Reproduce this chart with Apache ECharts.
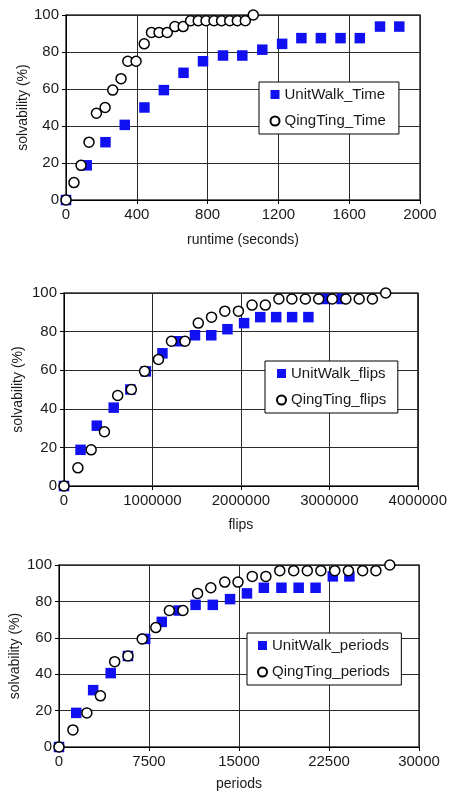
<!DOCTYPE html>
<html>
<head>
<meta charset="utf-8">
<script src="https://cdn.jsdelivr.net/npm/echarts@6/dist/echarts.min.js"></script>
<style>
html,body{margin:0;padding:0;background:#fff;}
#c{width:450px;height:792px;}
</style>
</head>
<body>
<div id="c"></div>
<script>
// Chart 1: runtime (seconds)
var unitWalkTimeX = [0,117,223,332,443,553,664,774,887,996,1109,1221,1330,1440,1551,1660,1774,1883];
var unitWalkTimeY = [0,18.75,31.25,40.6,50,59.4,68.75,75,78.1,78.1,81.25,84.4,87.5,87.5,87.5,87.5,93.75,93.75];
var qingTingTimeX = [0,45,85,130,172,221,264,311,349,396,442,483,526,572,615,662,704,747,791,836,879,925,968,1013,1058];
var qingTingTimeY = [0,9.4,18.75,31.25,46.9,50,59.4,65.6,75,75,84.4,90.6,90.6,90.6,93.75,93.75,96.9,96.9,96.9,96.9,96.9,96.9,96.9,96.9,100];

// Chart 2: flips
var unitWalkFlipsX = [0,187000,371000,562000,750000,926000,1113000,1300000,1481000,1665000,1848000,2036000,2219000,2399000,2579000,2763000,2955000,3140000];
var unitWalkFlipsY = [0,18.75,31.25,40.6,50,59.4,68.75,75,78.1,78.1,81.25,84.4,87.5,87.5,87.5,87.5,96.9,96.9];
var qingTingFlipsX = [0,157000,307000,457000,607000,761000,911000,1068000,1215000,1368000,1518000,1668000,1818000,1972000,2126000,2276000,2429000,2576000,2729000,2879000,3033000,3187000,3337000,3487000,3637000];
var qingTingFlipsY = [0,9.4,18.75,28.1,46.9,50,59.4,65.6,75,75,84.4,87.5,90.6,90.6,93.75,93.75,96.9,96.9,96.9,96.9,96.9,96.9,96.9,96.9,100];

// Chart 3: periods
var unitWalkPeriodsX = [0,1436,2845,4309,5746,7182,8564,9972,11381,12818,14254,15663,17072,18536,19972,21381,22818,24199];
var unitWalkPeriodsY = [0,18.75,31.25,40.6,50,59.4,68.75,75,78.1,78.1,81.25,84.4,87.5,87.5,87.5,87.5,93.75,93.75];
var qingTingPeriodsX = [0,1160,2320,3453,4641,5746,6934,8066,9199,10331,11547,12652,13812,14917,16105,17238,18398,19558,20691,21823,22983,24116,25304,26409,27569];
var qingTingPeriodsY = [0,9.4,18.75,28.1,46.9,50,59.4,65.6,75,75,84.4,87.5,90.6,90.6,93.75,93.75,96.9,96.9,96.9,96.9,96.9,96.9,96.9,96.9,100];

var seriesNames = [
  ['UnitWalk_Time','QingTing_Time'],
  ['UnitWalk_flips','QingTing_flips'],
  ['UnitWalk_periods','QingTing_periods']
];
var xNames = ['runtime (seconds)','flips','periods'];
var yName = 'solvability (%)';
var xMax = [2000,4000000,30000];
var xInterval = [400,1000000,7500];

function pairs(xs, ys){ return xs.map(function(x,i){ return [x, ys[i]]; }); }
var dataSets = [
  [pairs(unitWalkTimeX, unitWalkTimeY), pairs(qingTingTimeX, qingTingTimeY)],
  [pairs(unitWalkFlipsX, unitWalkFlipsY), pairs(qingTingFlipsX, qingTingFlipsY)],
  [pairs(unitWalkPeriodsX, unitWalkPeriodsY), pairs(qingTingPeriodsX, qingTingPeriodsY)]
];

var FONT = '"Liberation Sans", Arial, Helvetica, sans-serif';
var TXT = '#1a1a1a';

var grids = [
  {left:66, top:15, width:354, height:185},
  {left:64, top:293, width:356, height:193},
  {left:57, top:565, width:362, height:183}
];
var yNameGaps = [36, 39, 37];
var xNameGaps = [33, 32, 30];
var legends = [
  {left:259, top:82, padding:[5,13,5.5,10.5], itemTextGap:11},
  {left:265, top:361, padding:[5,11.5,5.5,11], itemTextGap:11},
  {left:247, top:633, padding:[5,11.5,5.5,10], itemTextGap:11}
];

function plain(v){ return String(v); }

var option = {
  backgroundColor:'#fff',
  animation:false,
  textStyle:{fontFamily:FONT, color:TXT},
  grid: grids.map(function(g){ return Object.assign({show:true, borderColor:'#333', borderWidth:1.5, backgroundColor:'transparent'}, g); }),
  xAxis: [], yAxis: [], series: [], legend: []
};

for (var i=0;i<3;i++){
  option.xAxis.push({
    type:'value', gridIndex:i, min:0, max:xMax[i], interval:xInterval[i],
    name:xNames[i], nameLocation:'middle', nameGap:xNameGaps[i], nameMoveOverlap:false,
    nameTextStyle:{fontSize:14, color:TXT, fontFamily:FONT},
    axisLine:{show:true, onZero:false, lineStyle:{color:'#000', width:1}},
    axisTick:{show:true, inside:false, length:4, lineStyle:{color:'#000'}},
    axisLabel:{fontSize:15, color:TXT, margin:7, fontFamily:FONT, formatter:plain},
    splitLine:{show:true, lineStyle:{color:'#2a2a2a', width:1}}
  });
  option.yAxis.push({
    type:'value', gridIndex:i, min:0, max:100, interval:20,
    name:yName, nameLocation:'middle', nameGap:yNameGaps[i], nameRotate:90, nameMoveOverlap:false,
    nameTextStyle:{fontSize:14, color:TXT, fontFamily:FONT},
    axisLine:{show:true, onZero:false, lineStyle:{color:'#000', width:1}},
    axisTick:{show:true, inside:false, length:4, lineStyle:{color:'#000'}},
    axisLabel:{fontSize:15, color:TXT, margin:7, fontFamily:FONT, formatter:plain},
    splitLine:{show:true, lineStyle:{color:'#2a2a2a', width:1}}
  });
  option.series.push({
    type:'scatter', name:seriesNames[i][0], xAxisIndex:i, yAxisIndex:i,
    symbol:'rect', symbolSize:10.5,
    itemStyle:{color:'#1010f0', opacity:1},
    data:dataSets[i][0], z:3
  });
  option.series.push({
    type:'scatter', name:seriesNames[i][1], xAxisIndex:i, yAxisIndex:i,
    symbol:'circle', symbolSize:10,
    itemStyle:{color:'#fff', borderColor:'#000', borderWidth:1.5, opacity:1},
    data:dataSets[i][1], z:4
  });
  option.legend.push(Object.assign({
    orient:'vertical', data:[
      {name:seriesNames[i][0], icon:'rect'},
      {name:seriesNames[i][1], icon:'circle'}
    ],
    itemWidth:9, itemHeight:9, itemGap:11.5,
    backgroundColor:'#fff', borderColor:'#000', borderWidth:1,
    textStyle:{fontSize:15, color:TXT, fontFamily:FONT, lineHeight:15},
    selectedMode:false
  }, legends[i]));
}

var chart = echarts.init(document.getElementById('c'), null, {renderer:'canvas'});
chart.setOption(option);
</script>
</body>
</html>
